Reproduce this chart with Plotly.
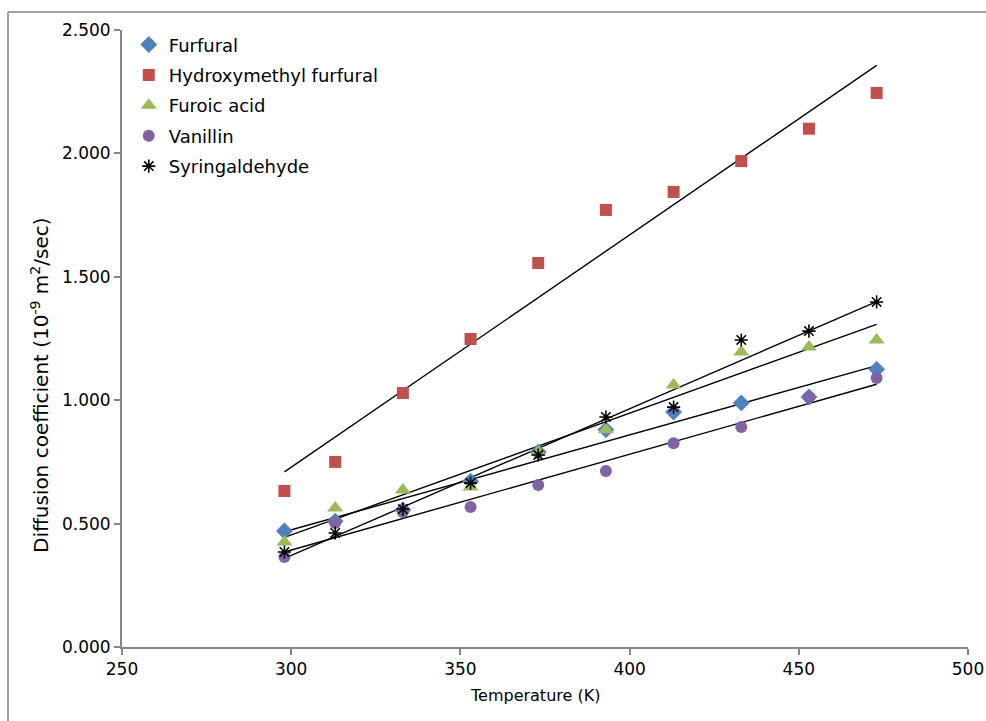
import numpy as np
import plotly.graph_objects as go

temperature = [298, 313, 333, 353, 373, 393, 413, 433, 453, 473]
furfural = [0.470, 0.510, 0.555, 0.672, 0.790, 0.880, 0.952, 0.989, 1.013, 1.125]
hmf = [0.632, 0.750, 1.029, 1.248, 1.556, 1.771, 1.844, 1.969, 2.100, 2.245]
furoic_acid = [0.425, 0.563, 0.636, 0.648, 0.790, 0.880, 1.062, 1.195, 1.216, 1.244]
vanillin = [0.365, 0.502, 0.547, 0.567, 0.656, 0.713, 0.826, 0.891, 1.013, 1.090]
syringaldehyde = [0.385, 0.462, 0.559, 0.664, 0.778, 0.932, 0.972, 1.244, 1.280, 1.398]
x_ticks = [250, 300, 350, 400, 450, 500]
y_ticks = [0.0, 0.5, 1.0, 1.5, 2.0, 2.5]

series = [
    ("Furfural", furfural, "diamond", "#4F81BD", 13),
    ("Hydroxymethyl furfural", hmf, "square", "#C0504D", 12),
    ("Furoic acid", furoic_acid, "triangle-up", "#9BBB59", 14),
    ("Vanillin", vanillin, "circle", "#8064A2", 12),
    ("Syringaldehyde", syringaldehyde, "asterisk-open", "#000000", 11),
]

FONT = "DejaVu Sans, Verdana, sans-serif"

fig = go.Figure()
T = np.array(temperature, dtype=float)
for name, vals, sym, col, size in series:
    m, c = np.polyfit(T, np.array(vals), 1)
    xs = [T.min(), T.max()]
    fig.add_trace(go.Scatter(x=xs, y=[m * x + c for x in xs], mode="lines",
                             line=dict(color="#000000", width=1.4),
                             showlegend=False, hoverinfo="skip"))
for name, vals, sym, col, size in series:
    mk = dict(symbol=sym, color=col, size=size)
    if sym == "asterisk-open":
        mk["line"] = dict(color=col, width=1.6)
    fig.add_trace(go.Scatter(x=temperature, y=vals, mode="markers", name=name,
                             legendgroup=name, marker=mk))

fig.update_layout(
    width=986, height=721,
    margin=dict(l=122, r=18, t=30, b=74, autoexpand=False),
    paper_bgcolor="white", plot_bgcolor="white",
    font=dict(family=FONT, size=15, color="#000000"),
    showlegend=True,
    legend=dict(x=0.008, y=1.006, xanchor="left", yanchor="top",
                bgcolor="rgba(0,0,0,0)", tracegroupgap=4,
                font=dict(size=18, family=FONT), itemwidth=30),
    xaxis=dict(range=[250, 500], tickvals=x_ticks, automargin=False,
               showgrid=False, zeroline=False, showline=True, linecolor="#868686",
               linewidth=2, ticks="outside", ticklen=6, tickcolor="#868686",
               tickwidth=1.5, tickfont=dict(size=17, family=FONT)),
    yaxis=dict(range=[0, 2.5], tickvals=y_ticks, automargin=False,
               tickformat=".3f", showgrid=False, zeroline=False, showline=True,
               linecolor="#868686", linewidth=2, ticks="outside", ticklen=6,
               tickcolor="#868686", tickwidth=1.5,
               tickfont=dict(size=17, family=FONT)),
    annotations=[
        dict(text="Temperature (K)", xref="paper", yref="paper",
             x=(535 - 122) / 846, y=(647 - 695) / 617, showarrow=False,
             xanchor="center", yanchor="middle", font=dict(size=16, family=FONT)),
        dict(text="Diffusion coefficient (10<sup>-9</sup> m<sup>2</sup>/sec)",
             xref="paper", yref="paper", textangle=-90,
             x=(40 - 122) / 846, y=(647 - 385) / 617, showarrow=False,
             xanchor="center", yanchor="middle", font=dict(size=20, family=FONT)),
    ],
    shapes=[
        dict(type="line", xref="paper", yref="paper",
             x0=(8 - 122) / 846, x1=(8 - 122) / 846, y0=-0.2, y1=(647 - 12) / 617,
             line=dict(color="#A0A0A0", width=2)),
        dict(type="line", xref="paper", yref="paper",
             x0=(8 - 122) / 846, x1=1.1, y0=(647 - 12) / 617, y1=(647 - 12) / 617,
             line=dict(color="#A0A0A0", width=2)),
    ],
)

fig.write_html("out.html", config={"displayModeBar": False},
               post_script="document.body.style.margin='0';document.body.style.overflow='hidden';")
